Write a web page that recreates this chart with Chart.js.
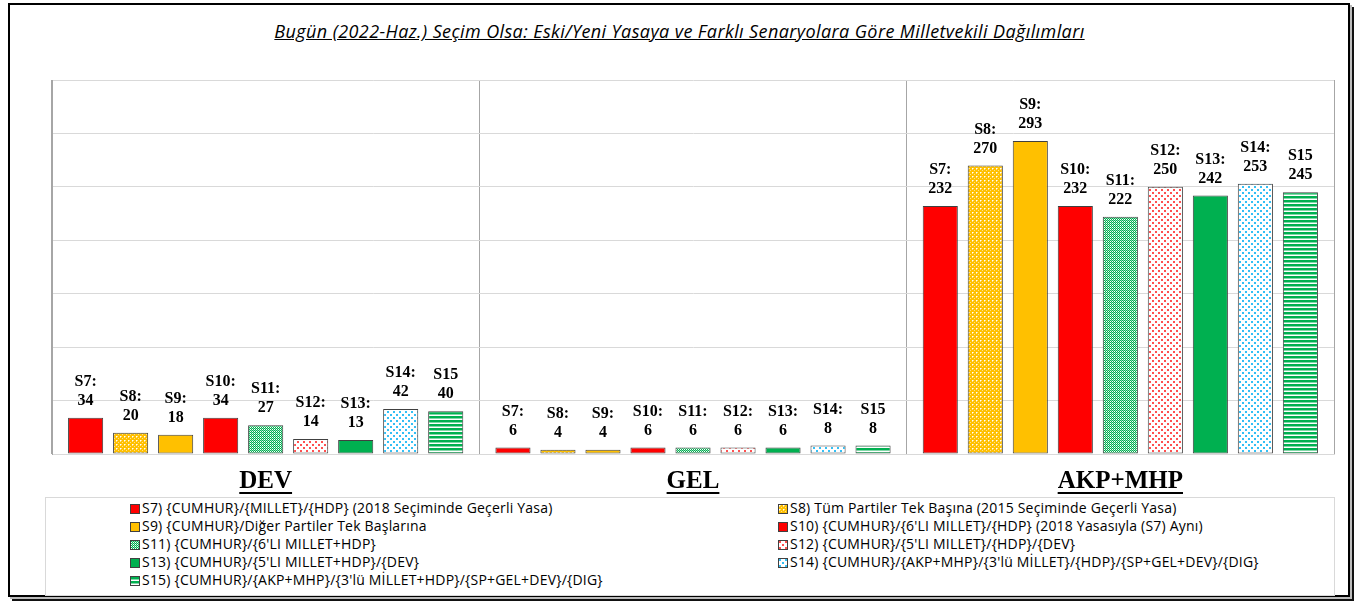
<!DOCTYPE html>
<html lang="tr">
<head>
<meta charset="utf-8">
<title>Milletvekili Dağılımları</title>
<script src="https://cdn.jsdelivr.net/npm/chart.js"></script>
<style>
  body { margin: 0; background: #fff; }
  #page { position: relative; width: 1359px; height: 602px; overflow: hidden; }
  #frame {
    position: absolute; left: 8px; top: 3px; width: 1338px; height: 590px;
    border: 2px solid #000;
    box-shadow: 2px 2px 0 0 #bbb, 4px 4px 0 0 #111;
  }
  #title {
    position: absolute; left: 0; top: 19px; width: 1359px; text-align: center;
    font: italic 18px "Open Sans"; letter-spacing: 0.4px;
    text-decoration: underline; color: #000;
  }
  #chartBox { position: absolute; left: 0; top: 0; width: 1359px; height: 511px; }
  #legend {
    position: absolute; left: 45px; top: 497px; width: 1290px; height: 99px;
    border: 1px solid #d9d9d9; box-sizing: border-box; background: #fff;
  }
  .item {
    position: absolute; height: 18px; line-height: 18px; white-space: nowrap;
    font: 14px "Open Sans"; letter-spacing: 0.2px; color: #000;
  }
  .item canvas { vertical-align: -1px; margin-right: 2px; border: 1px solid #404040; }
</style>
</head>
<body>
<div id="page">
  <div id="frame"></div>
  <div id="title">Bugün (2022-Haz.) Seçim Olsa: Eski/Yeni Yasaya ve Farklı Senaryolara Göre Milletvekili Dağılımları</div>
  <div id="chartBox"><canvas id="seatChart"></canvas></div>
  <div id="legend"></div>
</div>
<script>
// kategoriler ve senaryo sonuçları (milletvekili sayısı)
const categories = ['DEV', 'GEL', 'AKP+MHP'];
const s7  = [34, 6, 232];
const s8  = [20, 4, 270];
const s9  = [18, 4, 293];
const s10 = [34, 6, 232];
const s11 = [27, 6, 222];
const s12 = [14, 6, 250];
const s13 = [13, 6, 242];
const s14 = [42, 8, 253];
const s15 = [40, 8, 245];
const scenarioTags = ['S7:', 'S8:', 'S9:', 'S10:', 'S11:', 'S12:', 'S13:', 'S14:', 'S15'];
const legendTexts = [
  "S7) {CUMHUR}/{MILLET}/{HDP} (2018 Seçiminde Geçerli Yasa)",
  "S8) Tüm Partiler Tek Başına (2015 Seçiminde Geçerli Yasa)",
  "S9) {CUMHUR}/Diğer Partiler Tek Başlarına",
  "S10) {CUMHUR}/{6'LI MILLET}/{HDP} (2018 Yasasıyla (S7) Aynı)",
  "S11) {CUMHUR}/{6'LI MILLET+HDP}",
  "S12) {CUMHUR}/{5'LI MILLET}/{HDP}/{DEV}",
  "S13) {CUMHUR}/{5'LI MILLET+HDP}/{DEV}",
  "S14) {CUMHUR}/{AKP+MHP}/{3'lü MİLLET}/{HDP}/{SP+GEL+DEV}/{DIG}",
  "S15) {CUMHUR}/{AKP+MHP}/{3'lü MİLLET+HDP}/{SP+GEL+DEV}/{DIG}"
];
const yMax = 350;
const yStep = 50;

const seriesData = [s7, s8, s9, s10, s11, s12, s13, s14, s15];
const looks = ['red', 'lattice', 'yellow', 'red', 'speck', 'redDots', 'green', 'blueDots', 'stripes'];

// desenli dolgu (Excel'deki desenler)
function makeFill(g, look) {
  if (look === 'red') return '#FF0000';
  if (look === 'yellow') return '#FFC000';
  if (look === 'green') return '#00B050';
  const c = document.createElement('canvas');
  const t = c.getContext('2d');
  if (look === 'lattice') {
    c.width = 4; c.height = 4;
    t.fillStyle = '#FFC000'; t.fillRect(0, 0, 4, 4);
    t.fillStyle = '#FFE08A';
    t.fillRect(1, 0, 1, 1); t.fillRect(0, 1, 1, 1); t.fillRect(2, 2, 1, 1);
    t.fillStyle = '#FFFFFF';
    t.fillRect(0, 0, 1, 1);
  } else if (look === 'speck') {
    c.width = 2; c.height = 2;
    t.fillStyle = '#00B050'; t.fillRect(0, 0, 2, 2);
    t.fillStyle = '#8FDDB5'; t.fillRect(1, 0, 1, 1);
    t.fillStyle = '#FFFFFF'; t.fillRect(0, 1, 1, 1);
  } else if (look === 'redDots' || look === 'blueDots') {
    c.width = 6; c.height = 6;
    t.fillStyle = '#FFFFFF'; t.fillRect(0, 0, 6, 6);
    t.fillStyle = look === 'redDots' ? '#FF5050' : '#33BFF5';
    t.fillRect(0, 0, 2, 2); t.fillRect(3, 3, 2, 2);
  } else if (look === 'stripes') {
    c.width = 1; c.height = 4;
    t.fillStyle = '#00B050'; t.fillRect(0, 0, 1, 2);
    t.fillStyle = '#80D8A8'; t.fillRect(0, 2, 1, 1);
    t.fillStyle = '#FFFFFF'; t.fillRect(0, 3, 1, 1);
  }
  return g.createPattern(c, 'repeat');
}

// çubukların üstüne "S7:\n34" etiketleri
const barTags = {
  id: 'barTags',
  afterDatasetsDraw(chart) {
    const ctx = chart.ctx;
    ctx.save();
    ctx.font = 'bold 16px "Liberation Serif"';
    ctx.fillStyle = '#000';
    ctx.textAlign = 'center';
    ctx.textBaseline = 'middle';
    chart.data.datasets.forEach((ds, i) => {
      chart.getDatasetMeta(i).data.forEach((bar, j) => {
        ctx.fillText(scenarioTags[i], bar.x, bar.y - 36);
        ctx.fillText(String(ds.data[j]), bar.x, bar.y - 17);
      });
    });
    ctx.restore();
  }
};

// kategori etiketlerinin altını çiz
const tickPad = 13;
const tickSize = 25;
const underlineTicks = {
  id: 'underlineTicks',
  afterDraw(chart) {
    const sc = chart.scales.x;
    const ctx = chart.ctx;
    ctx.save();
    ctx.font = 'bold ' + tickSize + 'px "Liberation Serif"';
    ctx.strokeStyle = '#000';
    ctx.lineWidth = 2;
    const y = sc.top + tickPad + tickSize * 0.6 + tickSize * 0.36 + 2;
    sc.ticks.forEach((t, i) => {
      const cx = sc.getPixelForTick(i);
      const w = ctx.measureText(categories[i]).width;
      ctx.beginPath();
      ctx.moveTo(cx - w / 2, y);
      ctx.lineTo(cx + w / 2, y);
      ctx.stroke();
    });
    ctx.restore();
  }
};

const canvas = document.getElementById('seatChart');
const g = canvas.getContext('2d');

const chart = new Chart(g, {
  type: 'bar',
  data: {
    labels: categories,
    datasets: seriesData.map((d, i) => ({
      label: legendTexts[i],
      data: d,
      backgroundColor: makeFill(g, looks[i]),
      borderColor: '#404040',
      borderWidth: 1,
      borderSkipped: false,
      categoryPercentage: 0.948,
      barPercentage: 0.78
    }))
  },
  options: {
    responsive: true,
    maintainAspectRatio: false,
    animation: false,
    layout: { padding: { top: 80, left: 52, right: 25, bottom: 1 } },
    plugins: {
      legend: { display: false },
      title: { display: false },
      tooltip: { enabled: false }
    },
    scales: {
      x: {
        grid: { color: '#a6a6a6', drawTicks: false, offset: true },
        border: { color: '#d9d9d9' },
        ticks: {
          padding: tickPad,
          color: '#000',
          font: { family: 'Liberation Serif', size: tickSize, weight: 'bold' }
        }
      },
      y: {
        min: 0,
        max: yMax,
        ticks: { display: false, stepSize: yStep },
        grid: { color: '#d9d9d9', drawTicks: false },
        border: { color: '#a6a6a6' }
      }
    }
  },
  plugins: [barTags, underlineTicks]
});

// iki sütunlu açıklama (S7 S8 / S9 S10 / ...)
const legendBox = document.getElementById('legend');
chart.data.datasets.forEach((ds, i) => {
  const item = document.createElement('div');
  item.className = 'item';
  item.style.left = (i % 2 === 0 ? 84 : 732) + 'px';
  item.style.top = (Math.floor(i / 2) * 18) + 'px';
  const sw = document.createElement('canvas');
  sw.width = 8; sw.height = 8;
  const sg = sw.getContext('2d');
  sg.fillStyle = makeFill(sg, looks[i]);
  sg.fillRect(0, 0, 8, 8);
  item.appendChild(sw);
  item.appendChild(document.createTextNode(ds.label));
  legendBox.appendChild(item);
});
</script>
</body>
</html>
